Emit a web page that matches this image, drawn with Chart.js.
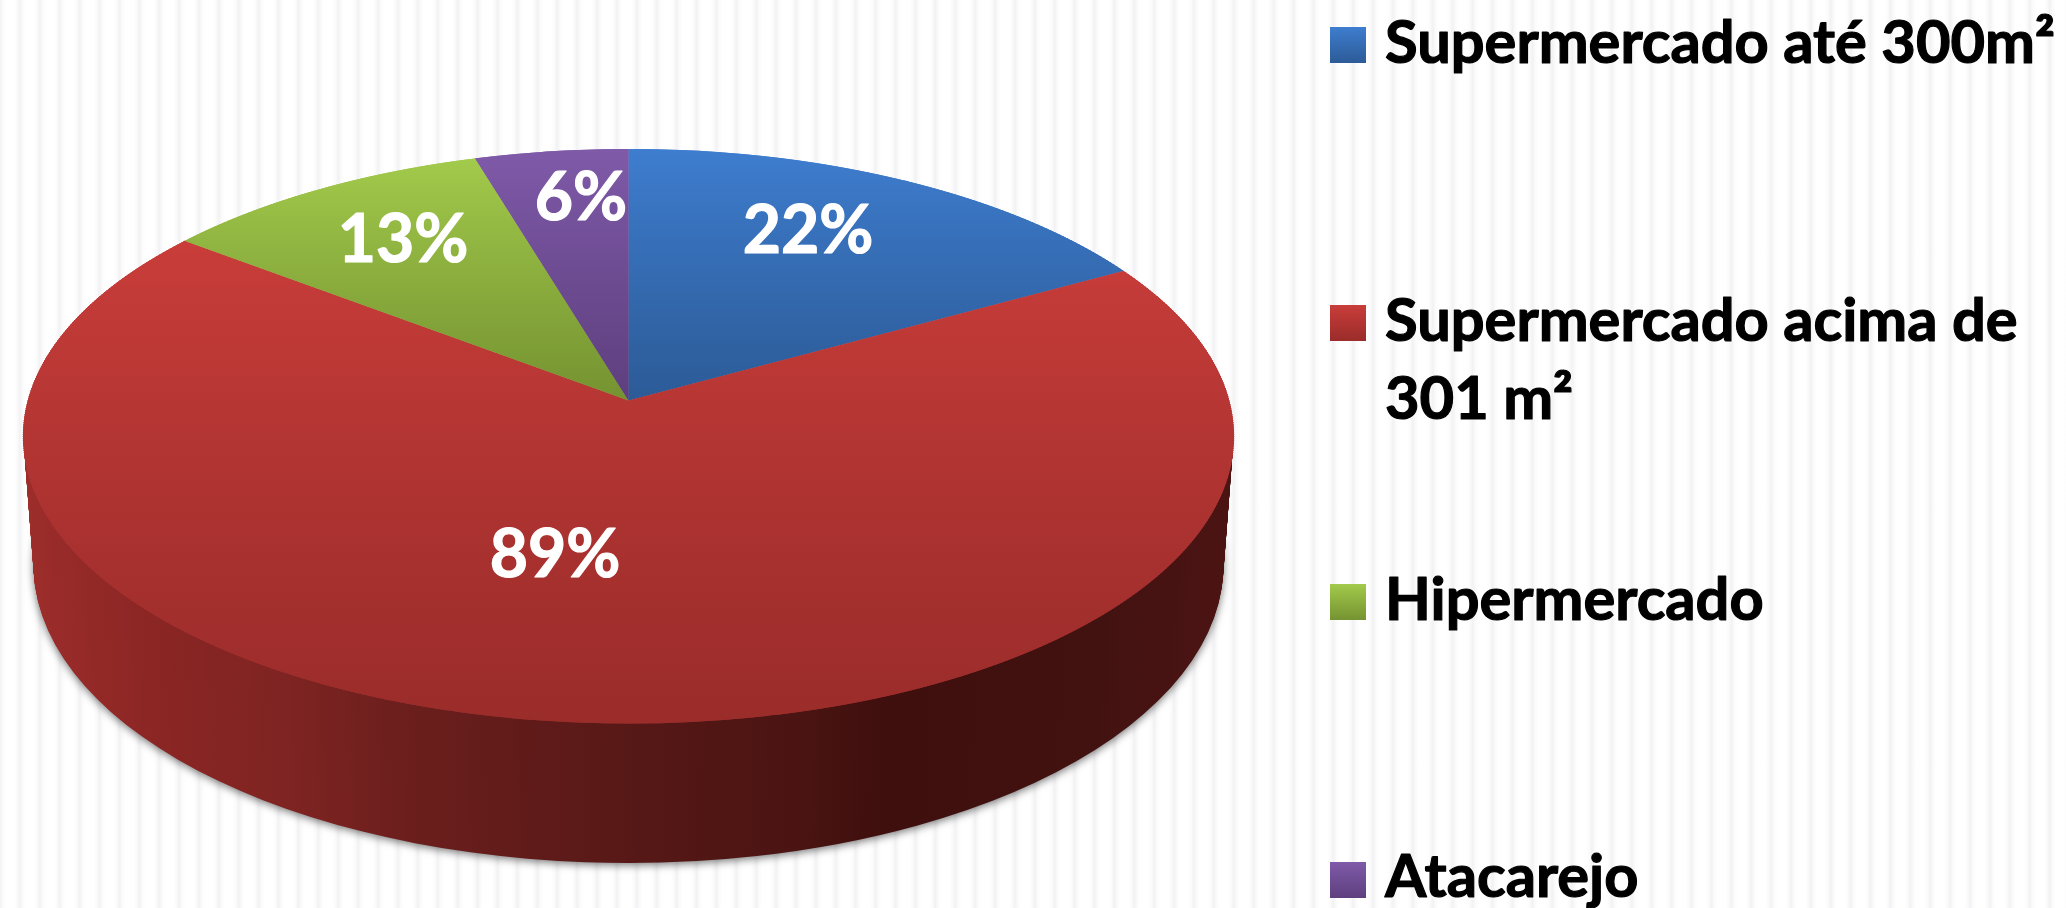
<!DOCTYPE html>
<html lang="pt">
<head>
<meta charset="utf-8">
<title>Supermercados</title>
<script src="https://cdn.jsdelivr.net/npm/chart.js@4"></script>
<style>
  html, body { margin: 0; padding: 0; width: 2066px; height: 908px; overflow: hidden; }
  body {
    background: repeating-linear-gradient(90deg, #f2f2f4 0, #fbfbfc 3px, #ffffff 6px, #ffffff 14px, #fbfbfc 17px, #f2f2f4 19.9px);
  }
  canvas { position: absolute; left: 0; top: 0; }
</style>
</head>
<body>
<canvas id="pieChart" width="2066" height="908"></canvas>
<script>
// Chart data
const categories = ["Supermercado até 300m²", "Supermercado acima de 301 m²", "Hipermercado", "Atacarejo"];
const values = [22, 89, 13, 6];

// Slice colours, top and bottom of the vertical gradient
const flatColors = ["#3a74bf", "#b83633", "#8eb03f", "#6f4f96"];
const gradTop = ["#3e7dcf", "#c93d3a", "#a2ca4b", "#7f5aa9"];
const gradBottom = ["#2c5b97", "#9a2c2a", "#759331", "#5e3f7e"];
const gradFrom = [149, 240, 160, 149];
const gradTo = [400, 723, 400, 400];

// Side wall colours from left to right
const wallStops = [[30, "#9c2d2b"], [150, "#8b2624"], [290, "#7e2422"], [400, "#6c1f1d"], [640, "#561816"], [800, "#4a1412"], [890, "#3e0f0d"], [1100, "#421211"], [1225, "#4b1413"]];

// Percent label centres and legend rows
const labelX = [808, 555, 403, 581];
const labelY = [232, 556, 241, 199];
const legendSwatchY = [27, 305, 584, 862];
const legendBaseline = [63, 341, 620, 897];

const FONT = "Lato, sans-serif";

// Perspective of the pie top: disc (u, v) in -1..1 goes to
// x = PX + PB * u / (1 - PQ * v), y = PY + PA * v / (1 - PQ * v)
const PX = 628.5, PY = 400.5, PA = 282.8, PB = 600.8, PQ = 0.1245;

// Wall ellipses, top face to bottom edge
const WALL_TOP = { y: 436, rx: 605, ry: 287 };
const WALL_BOT = { y: 565, rx: 595, ry: 298 };

function discV(y) {
  const t = y - PY;
  return t / (PA + PQ * t);
}

// Same arc element, other fill
function withFill(arc, fill) {
  const el = Object.create(arc);
  el.options = Object.assign({}, arc.options, { backgroundColor: fill, borderWidth: 0 });
  return el;
}

function drawWall(ctx, red, wallFill) {
  const R = red.outerRadius;
  const el = withFill(red, wallFill);
  const steps = WALL_BOT.y - WALL_TOP.y;
  for (let i = steps; i >= 0; i--) {
    const t = i / steps;
    const rx = WALL_TOP.rx + (WALL_BOT.rx - WALL_TOP.rx) * t;
    const ry = WALL_TOP.ry + (WALL_BOT.ry - WALL_TOP.ry) * t;
    const yc = WALL_TOP.y + (WALL_BOT.y - WALL_TOP.y) * t;
    ctx.save();
    if (i === steps) {
      ctx.shadowColor = "rgba(0,0,0,0.55)";
      ctx.shadowBlur = 9;
      ctx.shadowOffsetY = 2;
    }
    ctx.setTransform(rx / R, 0, 0, ry / R, PX - red.x * rx / R, yc - red.y * ry / R);
    el.draw(ctx);
    ctx.restore();
  }
}

// Top face in 2px bands, each band with its own affine step
function drawTop(ctx, arcs) {
  const R = arcs[0].outerRadius;
  const cx = arcs[0].x, cy = arcs[0].y;
  const fills = arcs.map((arc, i) => {
    const g = ctx.createLinearGradient(0, cy + R * discV(gradFrom[i]), 0, cy + R * discV(gradTo[i]));
    g.addColorStop(0, gradTop[i]);
    g.addColorStop(1, gradBottom[i]);
    return withFill(arc, g);
  });
  for (let y = 146; y < 728; y += 2) {
    const ym = y + 1;
    const vm = discV(ym);
    const w = 1 - PQ * vm;
    const sx = PB / (R * w);
    const sy = PA / (w * w * R);
    ctx.save();
    ctx.beginPath();
    ctx.rect(0, y, 2066, 2);
    ctx.clip();
    ctx.setTransform(sx, 0, 0, sy, PX - cx * sx, ym - (cy + vm * R) * sy);
    // twice, so the white does not show through the seams between slices
    fills.forEach((el) => el.draw(ctx));
    fills.forEach((el) => el.draw(ctx));
    ctx.restore();
  }
}

// Draws the 3D look with the pie's own arc elements
const pie3d = {
  id: "pie3d",
  beforeDatasetDraw(chart, args) {
    const ctx = chart.ctx;
    const arcs = args.meta.data;
    const R = arcs[0].outerRadius;
    const wallFill = ctx.createLinearGradient(arcs[0].x - R, 0, arcs[0].x + R, 0);
    wallStops.forEach(([x, color]) => {
      const pos = ((x - PX) / 600 + 1) / 2;
      wallFill.addColorStop(Math.min(1, Math.max(0, pos)), color);
    });
    drawWall(ctx, arcs[1], wallFill);
    drawTop(ctx, arcs);
    return false;
  },
};

// Text with a thin outline, Lato bold is lighter than the original face
function heavyText(ctx, text, x, y) {
  ctx.strokeStyle = ctx.fillStyle;
  ctx.lineWidth = 1.2;
  ctx.lineJoin = "round";
  ctx.strokeText(text, x, y);
  ctx.fillText(text, x, y);
}

// Percent labels and the legend on the right
const chartText = {
  id: "chartText",
  afterDraw(chart) {
    const ctx = chart.ctx;
    ctx.save();
    ctx.fillStyle = "#ffffff";
    ctx.font = "bold 66px " + FONT;
    ctx.textAlign = "center";
    ctx.textBaseline = "middle";
    values.forEach((v, i) => heavyText(ctx, v + "%", labelX[i], labelY[i]));

    ctx.textAlign = "left";
    ctx.textBaseline = "alphabetic";
    ctx.font = "bold 59.6px " + FONT;
    categories.forEach((name, i) => {
      const g = ctx.createLinearGradient(0, legendSwatchY[i], 0, legendSwatchY[i] + 36);
      g.addColorStop(0, gradTop[i]);
      g.addColorStop(1, gradBottom[i]);
      ctx.fillStyle = g;
      ctx.fillRect(1330, legendSwatchY[i], 36, 36);

      // wrap long names
      ctx.fillStyle = "#000000";
      let line = "";
      let y = legendBaseline[i];
      name.split(" ").forEach((word) => {
        const next = line ? line + " " + word : word;
        if (ctx.measureText(next).width > 700) {
          heavyText(ctx, line, 1385, y);
          y += 78;
          line = word;
        } else {
          line = next;
        }
      });
      heavyText(ctx, line, 1385, y);
    });
    ctx.restore();
  },
};

new Chart(document.getElementById("pieChart"), {
  type: "pie",
  data: {
    labels: categories,
    datasets: [{ data: values, backgroundColor: flatColors, borderWidth: 0 }],
  },
  options: {
    responsive: false,
    animation: false,
    plugins: { legend: { display: false }, tooltip: { enabled: false } },
  },
  plugins: [pie3d, chartText],
});
</script>
</body>
</html>
